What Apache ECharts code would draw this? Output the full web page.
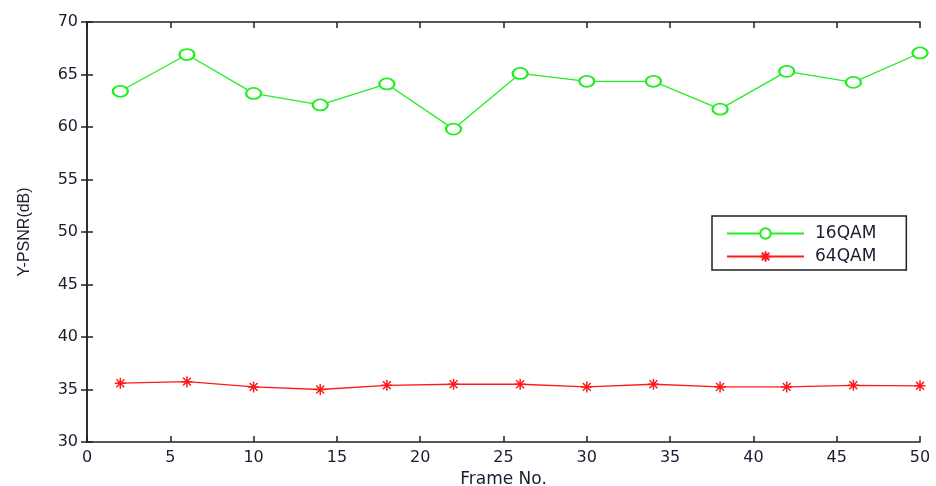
<!DOCTYPE html>
<html><head><meta charset="utf-8">
<script src="https://cdn.jsdelivr.net/npm/echarts@6/dist/echarts.min.js"></script>
<style>html,body{margin:0;padding:0;background:#fff}#c{width:936px;height:486px}</style>
</head><body><div id="c"></div>
<script>
const frames = [2, 6, 10, 14, 18, 22, 26, 30, 34, 38, 42, 46, 50];
const qam16 = [63.4, 66.9, 63.2, 62.1, 64.1, 59.8, 65.1, 64.35, 64.35, 61.7, 65.3, 64.25, 67.05];
const qam64 = [35.6, 35.75, 35.25, 35.0, 35.4, 35.5, 35.5, 35.25, 35.5, 35.25, 35.25, 35.4, 35.35];
const seriesNames = ['16QAM', '64QAM'];
const xTitle = 'Frame No.';
const yTitle = 'Y-PSNR(dB)';

const font = 'DejaVu Sans, Liberation Sans, Arial, sans-serif';
const txt = '#1c1c2e';
const star = 'path://M0,-5L0,5M-5,0L5,0M-3.6,-3.6L3.6,3.6M-3.6,3.6L3.6,-3.6';
const axisBase = {
  type: 'value',
  axisLine: {show: true, lineStyle: {color: '#222', width: 1.5}},
  axisTick: {show: true, inside: true, length: 6, lineStyle: {color: '#222', width: 1.5}},
  splitLine: {show: false}
};
const chart = echarts.init(document.getElementById('c'));
chart.setOption({
  animation: false,
  backgroundColor: '#fff',
  grid: {left: 87, right: 16, top: 22, bottom: 44, containLabel: false, outerBoundsMode: 'none'},
  legend: {
    orient: 'vertical', left: 712, top: 216,
    data: seriesNames,
    itemWidth: 77, itemHeight: 13, itemGap: 6,
    padding: [9, 30, 5, 14],
    borderColor: '#222', borderWidth: 1.5,
    textStyle: {fontFamily: font, fontSize: 17, color: txt, padding: [0, 0, 0, 6]}
  },
  xAxis: [
    Object.assign({}, axisBase, {
      min: 0, max: 50, interval: 5, position: 'bottom',
      name: xTitle, nameLocation: 'middle', nameGap: 26,
      nameTextStyle: {fontFamily: font, fontSize: 17, color: txt},
      axisLabel: {fontFamily: font, fontSize: 16, color: txt, margin: 8}
    }),
    Object.assign({}, axisBase, {
      min: 0, max: 50, interval: 5, position: 'top', axisLabel: {show: false}
    })
  ],
  yAxis: [
    Object.assign({}, axisBase, {
      min: 30, max: 70, interval: 5, position: 'left',
      name: yTitle, nameLocation: 'middle', nameGap: 54,
      nameTextStyle: {fontFamily: 'Liberation Sans, Arial, sans-serif', fontSize: 16, color: txt},
      axisLabel: {fontFamily: font, fontSize: 16, color: txt, margin: 9}
    }),
    Object.assign({}, axisBase, {
      min: 30, max: 70, interval: 5, position: 'right', axisLabel: {show: false}
    })
  ],
  series: [
    {
      name: seriesNames[0], type: 'line',
      data: frames.map((f, i) => [f, qam16[i]]),
      symbol: 'emptyCircle', symbolSize: [15, 11], showAllSymbol: true,
      lineStyle: {color: '#22ee22', width: 1.3},
      itemStyle: {color: '#22ee22', borderColor: '#22ee22', borderWidth: 1.5}
    },
    {
      name: seriesNames[1], type: 'line',
      data: frames.map((f, i) => [f, qam64[i]]),
      symbol: star, symbolSize: 11, showAllSymbol: true,
      lineStyle: {color: '#ff1a1a', width: 1.3},
      itemStyle: {color: '#ff1a1a', borderColor: '#ff1a1a', borderWidth: 1.5}
    }
  ]
});
</script></body></html>
